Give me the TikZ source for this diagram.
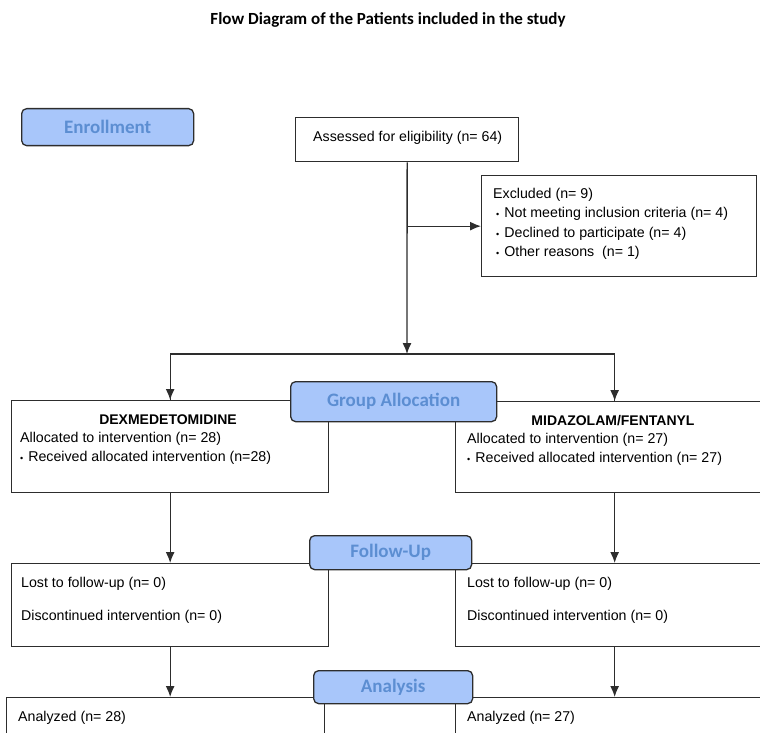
\documentclass[tikz,border=0pt]{standalone}
\usepackage{fontspec}
\setmainfont{Liberation Sans}
\newfontfamily\calibri{Carlito}
\usetikzlibrary{arrows.meta,positioning,calc}
\definecolor{phasefill}{RGB}{168,198,250}
\definecolor{phasetext}{RGB}{92,142,210}
\definecolor{boxline}{RGB}{45,45,45}
\tikzset{
  box/.style={draw=boxline,line width=1.3pt,fill=white,anchor=north west,inner sep=0pt},
  txt/.style={anchor=north west,align=left,inner sep=0pt,font=\fontsize{14.2}{19.5}\selectfont},
  phase/.style={draw=boxline,line width=1.3pt,fill=phasefill,rounded corners=5pt,
    text=phasetext,font=\calibri\bfseries\fontsize{19}{22}\selectfont,anchor=north west},
  arr/.style={line width=1.3pt,draw=boxline,-{Latex[length=11pt,width=9pt]}},
  conn/.style={line width=1.3pt,draw=boxline}
}
\newcommand{\dotitem}{{\small\textbullet}\hspace{5pt}}
\begin{document}
\begin{tikzpicture}[x=1pt,y=-1pt]
  \useasboundingbox (0,0) rectangle (760,733);
  \clip (0,0) rectangle (760,733);
  \node[font=\calibri\bfseries\fontsize{17}{20}\selectfont] (title) at (388,20) {Flow Diagram of the Patients included in the study};

  % enrollment
  \node[box,minimum width=223pt,minimum height=44pt] (assess) at (295,117) {};
  \node[txt] at ([shift={(18,14)}]assess.north west) {Assessed for eligibility (n= 64)};
  \node[box,minimum width=275pt,minimum height=101pt] (excl) at (481,175) {};
  \node[txt] at ([shift={(12,13)}]excl.north west) {Excluded (n= 9)\\
    \hspace{3pt}\dotitem Not meeting inclusion criteria (n= 4)\\
    \hspace{3pt}\dotitem Declined to participate (n= 4)\\
    \hspace{3pt}\dotitem Other reasons~~(n= 1)};
  \coordinate (split) at (407,354);

  % allocation
  \node[box,minimum width=317pt,minimum height=92pt] (dex) at (11,400) {};
  \node[font=\bfseries\fontsize{14}{16}\selectfont] at (168,420) {DEXMEDETOMIDINE};
  \node[txt] at ([shift={(9,32)}]dex.north west) {Allocated to intervention (n= 28)\\
    \dotitem Received allocated intervention (n=28)};
  \node[box,minimum width=318pt,minimum height=91pt] (mid) at (455,401) {};
  \node[font=\bfseries\fontsize{14}{16}\selectfont] at (613,421) {MIDAZOLAM/FENTANYL};
  \node[txt] at ([shift={(12,32)}]mid.north west) {Allocated to intervention (n= 27)\\
    \dotitem Received allocated intervention (n= 27)};

  % follow-up
  \node[box,minimum width=317pt,minimum height=83pt] (fuL) at (11,563) {};
  \node[txt] at ([shift={(10,14)}]fuL.north west) {Lost to follow-up (n= 0)\\[13.5pt]Discontinued intervention (n= 0)};
  \node[box,minimum width=318pt,minimum height=83pt] (fuR) at (455,563) {};
  \node[txt] at ([shift={(12,14)}]fuR.north west) {Lost to follow-up (n= 0)\\[13.5pt]Discontinued intervention (n= 0)};

  % analysis
  \node[box,minimum width=318pt,minimum height=80pt] (anL) at (6,697) {};
  \node[txt] at ([shift={(12,14)}]anL.north west) {Analyzed (n= 28)};
  \node[box,minimum width=324pt,minimum height=80pt] (anR) at (455,697) {};
  \node[txt] at ([shift={(12,14)}]anR.north west) {Analyzed (n= 27)};

  % connectors
  \draw[arr] (assess.south) -- (split);
  \draw[arr] (assess.south |- excl.west) -- (excl.west);
  \draw[conn] (split) -| (dex.north);
  \draw[conn] (split) -| (mid.north);
  \draw[arr] (dex.north |- split) -- (dex.north);
  \draw[arr] (mid.north |- split) -- (mid.north);
  \draw[arr] (dex.south) -- (fuL.north);
  \draw[arr] (mid.south) -- (fuR.north);
  \draw[arr] (fuL.south) -- (fuL.south |- anL.north);
  \draw[arr] (fuR.south) -- (fuR.south |- anR.north);

  % phase labels
  \node[phase,minimum width=172pt,minimum height=37pt] (enrol) at (21,108) {Enrollment};
  \node[phase,minimum width=206pt,minimum height=40pt] (alloc) at (290,381) {Group Allocation};
  \node[phase,minimum width=162pt,minimum height=34pt] (follow) at (309,535) {Follow-Up};
  \node[phase,minimum width=159pt,minimum height=33pt] (anal) at (313,670) {Analysis};
\end{tikzpicture}
\end{document}
